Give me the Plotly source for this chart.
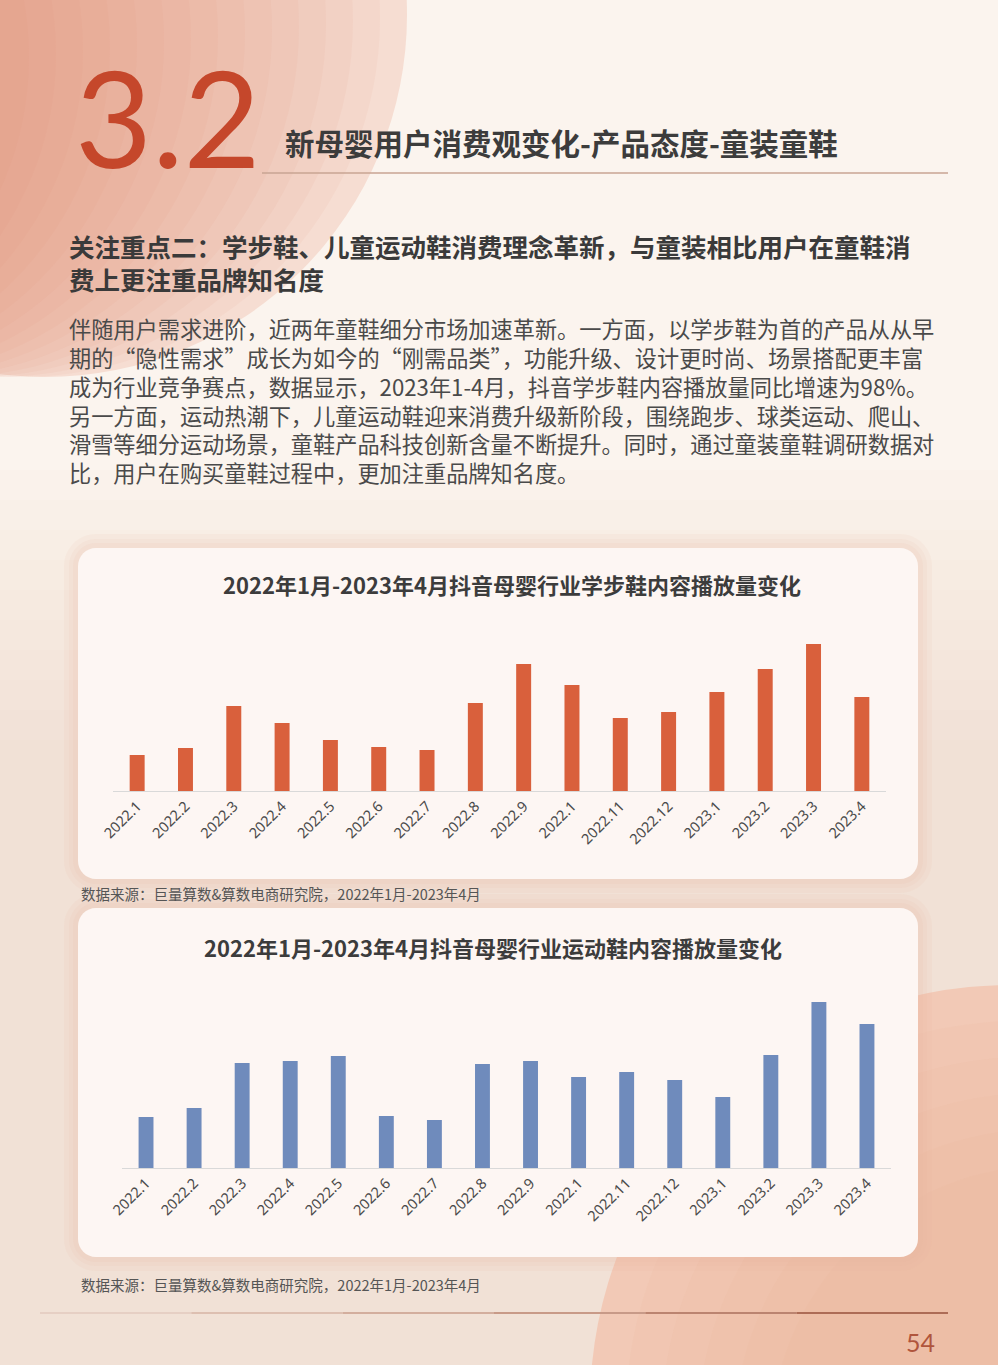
import plotly.graph_objects as go

# ---------------- data ----------------
months = ["2022.1", "2022.2", "2022.3", "2022.4", "2022.5", "2022.6", "2022.7",
          "2022.8", "2022.9", "2022.1", "2022.11", "2022.12", "2023.1", "2023.2",
          "2023.3", "2023.4"]
walking_shoe_plays = [36, 43, 85, 68, 51, 44, 41, 88, 127, 106, 73, 79, 99, 122, 147, 94]
sports_shoe_plays = [51, 60, 105, 107, 112, 52, 48, 104, 107, 91, 96, 88, 71, 113, 166, 144]

chart1_title = "2022年1月-2023年4月抖音母婴行业学步鞋内容播放量变化"
chart2_title = "2022年1月-2023年4月抖音母婴行业运动鞋内容播放量变化"
source_text = "数据来源：巨量算数&算数电商研究院，2022年1月-2023年4月"
section_no = "3.2"
section_title = "新母婴用户消费观变化-产品态度-童装童鞋"
focus_lines = ["关注重点二：学步鞋、儿童运动鞋消费理念革新，与童装相比用户在童鞋消",
               "费上更注重品牌知名度"]
body_lines = [
    "伴随用户需求进阶，近两年童鞋细分市场加速革新。一方面，以学步鞋为首的产品从从早",
    "期的“隐性需求”成长为如今的“刚需品类”，功能升级、设计更时尚、场景搭配更丰富",
    "成为行业竞争赛点，数据显示，2023年1-4月，抖音学步鞋内容播放量同比增速为98%。",
    "另一方面，运动热潮下，儿童运动鞋迎来消费升级新阶段，围绕跑步、球类运动、爬山、",
    "滑雪等细分运动场景，童鞋产品科技创新含量不断提升。同时，通过童装童鞋调研数据对",
    "比，用户在购买童鞋过程中，更加注重品牌知名度。",
]
page_no = "54"

# ---------------- layout helpers ----------------
W, H = 998, 1365
CJK = "Noto Sans CJK SC"


def px(x):
    return x / W


def py(y):
    return 1 - y / H


def rrect(x0, y0, x1, y1, r):
    k = 0.45 * r
    pts = [
        f"M {px(x0 + r)},{py(y0)}",
        f"L {px(x1 - r)},{py(y0)}",
        f"C {px(x1 - k)},{py(y0)} {px(x1)},{py(y0 + k)} {px(x1)},{py(y0 + r)}",
        f"L {px(x1)},{py(y1 - r)}",
        f"C {px(x1)},{py(y1 - k)} {px(x1 - k)},{py(y1)} {px(x1 - r)},{py(y1)}",
        f"L {px(x0 + r)},{py(y1)}",
        f"C {px(x0 + k)},{py(y1)} {px(x0)},{py(y1 - k)} {px(x0)},{py(y1 - r)}",
        f"L {px(x0)},{py(y0 + r)}",
        f"C {px(x0)},{py(y0 + k)} {px(x0 + k)},{py(y0)} {px(x0 + r)},{py(y0)}",
        "Z",
    ]
    return " ".join(pts)


def circle(cx, cy, r, color):
    return dict(type="circle", xref="paper", yref="paper", layer="below",
                x0=px(cx - r), x1=px(cx + r), y0=py(cy + r), y1=py(cy - r),
                fillcolor=color, line=dict(width=0))


def band(y0, y1, color):
    return dict(type="rect", xref="paper", yref="paper", layer="below",
                x0=0, x1=1, y0=py(y1), y1=py(y0), fillcolor=color, line=dict(width=0))


shapes = []
# soft pink tint growing towards the lower part of the page
for k in range(10):
    shapes.append(band(470 + 30 * k, 1365, "rgba(240,196,176,0.035)"))
# big top-left circle with simulated gradient
shapes.append(circle(45, 15, 362, "#f6ddd2"))
for k in range(1, 15):
    shapes.append(circle(45 - 24 * k, 15 + 3 * k, 362 - 3 * k, "rgba(226,136,108,0.07)"))
# bottom-right salmon disc
shapes.append(circle(1010, 1405, 420, "#f2c9b6"))
for k in range(1, 6):
    shapes.append(circle(1010 + 8 * k, 1405 + 8 * k, 420 - 28 * k, "rgba(236,172,148,0.09)"))

# chart cards (glow + card)
for (x0, y0, x1, y1) in [(78, 548, 918, 879), (78, 908, 918, 1257)]:
    for g in (14, 9, 5):
        shapes.append(dict(type="path", xref="paper", yref="paper", layer="below",
                           path=rrect(x0 - g, y0 - g, x1 + g, y1 + g, 18 + g),
                           fillcolor="rgba(236,176,152,0.09)", line=dict(width=0)))
    shapes.append(dict(type="path", xref="paper", yref="paper", layer="below",
                       path=rrect(x0, y0, x1, y1, 18),
                       fillcolor="#fdf6f3", line=dict(width=0)))

# header rule
shapes.append(dict(type="line", xref="paper", yref="paper", layer="above",
                   x0=px(262), x1=px(948), y0=py(173), y1=py(173),
                   line=dict(color="#c9a493", width=1.5)))
# footer rule (light to dark)
seg_cols = ["#e6cfc4", "#ddbfb1", "#d3ae9e", "#c89a88", "#bb8470", "#ad6c56"]
n = len(seg_cols)
for i, c in enumerate(seg_cols):
    xa = 40 + (948 - 40) * i / n
    xb = 40 + (948 - 40) * (i + 1) / n
    shapes.append(dict(type="line", xref="paper", yref="paper", layer="above",
                       x0=px(xa), x1=px(xb), y0=py(1313), y1=py(1313),
                       line=dict(color=c, width=2)))

annotations = []


def text(x, y, s, size, color, family=CJK, weight=400, xanchor="left", align="left"):
    annotations.append(dict(x=px(x), y=py(y), xref="paper", yref="paper", text=s,
                            showarrow=False, xanchor=xanchor, yanchor="middle",
                            align=align, borderpad=0,
                            font=dict(family=family, size=size, color=color, weight=weight)))


text(74, 116, section_no, 133, "#c5472b", family="Lato", weight=400)
text(284, 142, section_title, 29.5, "#3c3c3c", weight=700)
text(68, 262, "<br>".join(focus_lines), 25.5, "#3a3a3a", weight=700)
text(68, 400, "<br>".join(body_lines), 22.2, "#4a4a4a", weight=400)
text(512, 584, chart1_title, 22, "#3c3c3c", weight=700, xanchor="center")
text(493, 947, chart2_title, 22, "#3c3c3c", weight=700, xanchor="center")
text(80, 893, source_text, 14.5, "#555555")
text(80, 1284, source_text, 14.5, "#555555")
text(920, 1342, page_no, 25, "#b0553c", family="Lato", weight=400, xanchor="center")

# ---------------- figure ----------------
xs = list(range(len(months)))
fig = go.Figure()
fig.add_trace(go.Bar(x=xs, y=walking_shoe_plays, marker=dict(color="#d9603c", line=dict(width=0)),
                     xaxis="x", yaxis="y", showlegend=False, hoverinfo="skip"))
fig.add_trace(go.Bar(x=xs, y=sports_shoe_plays, marker=dict(color="#6f8bbc", line=dict(width=0)),
                     xaxis="x2", yaxis="y2", showlegend=False, hoverinfo="skip"))

axis_common = dict(tickmode="array", tickvals=xs, ticktext=months, tickangle=-45,
                   range=[-0.5, len(months) - 0.5], showgrid=False, zeroline=False,
                   showline=True, linecolor="#d9d9d9", linewidth=1, ticks="",
                   automargin=False,
                   tickfont=dict(family="Noto Sans", size=14.5, color="#4a4a4a"),
                   fixedrange=True)
yaxis_common = dict(showgrid=False, zeroline=False, showline=False, showticklabels=False,
                    ticks="", fixedrange=True, automargin=False)

fig.update_layout(
    width=W, height=H,
    margin=dict(l=0, r=0, t=0, b=0, pad=0),
    paper_bgcolor="#fbf4ee",
    plot_bgcolor="rgba(0,0,0,0)",
    bargap=0.69,
    xaxis=dict(domain=[px(113), px(886)], anchor="y", **axis_common),
    yaxis=dict(domain=[py(791), py(641)], range=[0, 150], anchor="x", **yaxis_common),
    xaxis2=dict(domain=[px(122), px(891)], anchor="y2", **axis_common),
    yaxis2=dict(domain=[py(1168), py(998)], range=[0, 170], anchor="x2", **yaxis_common),
    shapes=shapes,
    annotations=annotations,
)

fig.write_html("out.html", config={"displayModeBar": False},
               post_script="document.body.style.margin='0px';")
